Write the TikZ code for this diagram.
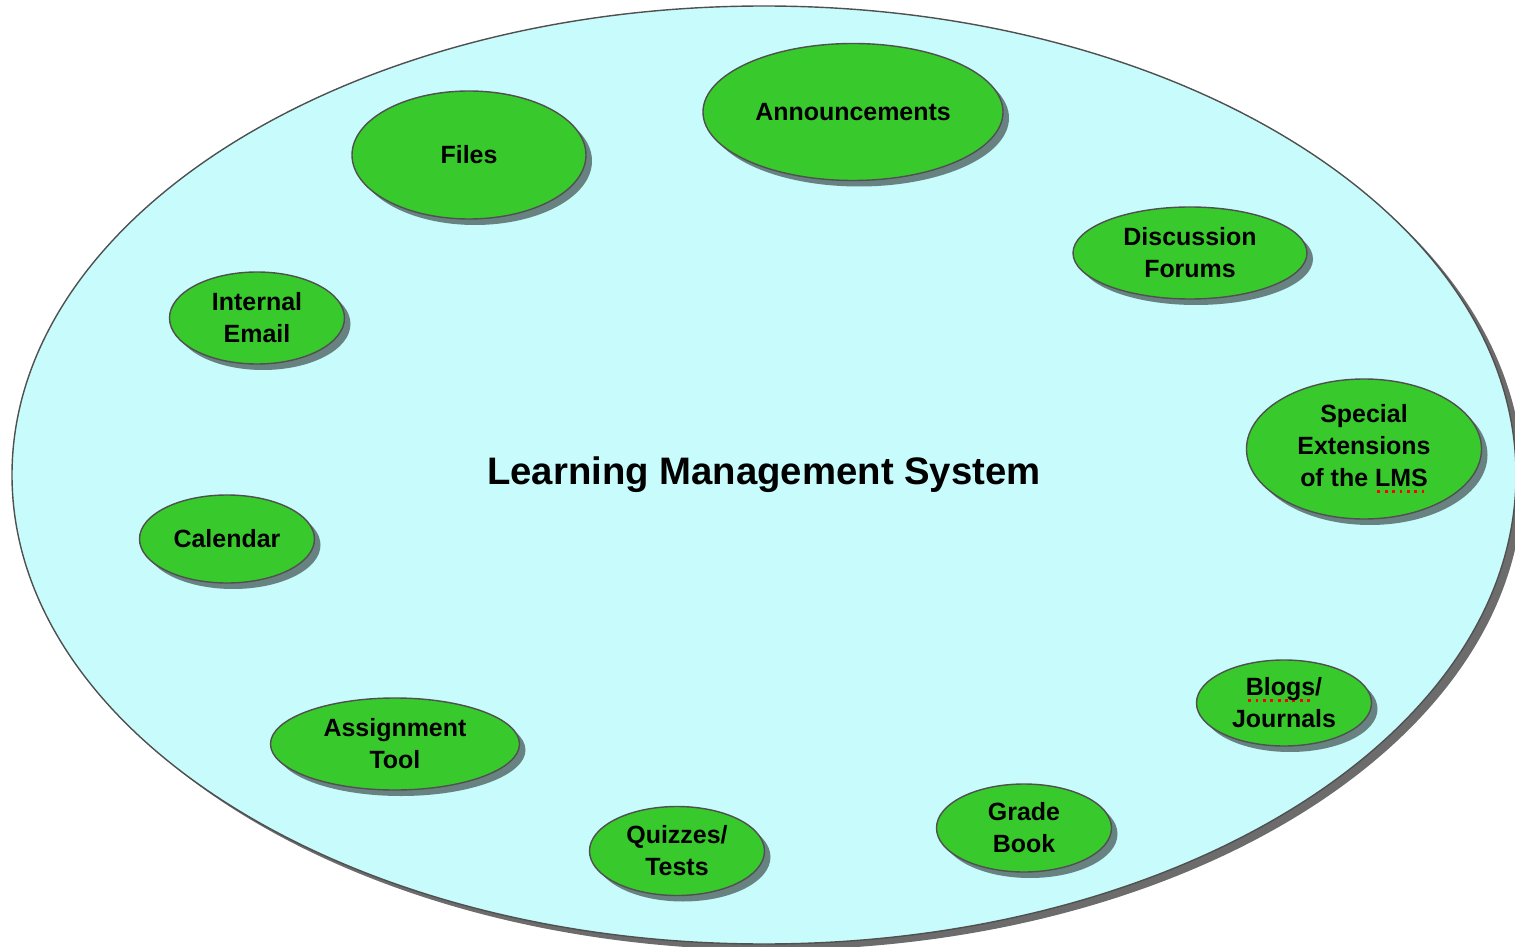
\documentclass[tikz,border=0pt]{standalone}
\usepackage{fontspec}
\setmainfont{Liberation Sans}
\usetikzlibrary{shapes.geometric,shadows}
\definecolor{lmscyan}{RGB}{200,252,252}
\definecolor{lmsgreen}{RGB}{56,201,44}
\definecolor{lmsshade}{RGB}{104,130,130}
\definecolor{lmsedge}{RGB}{80,80,80}
\newcommand{\spellmark}[1]{\sbox0{#1}\rlap{\raisebox{-1.8pt}{\color{red}\leaders\hbox to 2.1pt{\hss\rule{0.8pt}{0.8pt}\hss}\hskip\wd0}}#1}
\begin{document}
\begin{tikzpicture}[
        oval/.style 2 args={minimum width=#1cm, minimum height=#2cm},
        tool/.style={ellipse, draw=lmsedge, line width=0.4pt, fill=lmsgreen, inner sep=0pt, align=center,
            font=\fontsize{7.1}{9.1}\selectfont\bfseries,
            drop shadow={shadow xshift=0.06cm, shadow yshift=-0.06cm, fill=lmsshade, opacity=1}}
    ]
        \useasboundingbox (0,0) rectangle (15.15,-9.47);
        \node[ellipse, draw=lmsedge, line width=0.4pt, fill=lmscyan, inner sep=0pt, oval={15.04}{9.38},
            font=\fontsize{10.9}{13}\selectfont\bfseries,
            drop shadow={shadow xshift=0.07cm, shadow yshift=-0.06cm, fill=gray!85!black, opacity=1}]
            (lms) at (7.64, -4.75) {Learning Management System};
        \node[tool, oval={3.00}{1.37}] (announce) at (8.53, -1.12) {Announcements};
        \node[tool, oval={2.34}{1.28}] (files) at (4.69, -1.55) {Files};
        \node[tool, oval={2.34}{0.92}] (forums) at (11.90, -2.53) {Discussion\\Forums};
        \node[tool, oval={1.75}{0.92}] (email) at (2.57, -3.18) {Internal\\Email};
        \node[tool, oval={2.35}{1.40}] (special) at (13.64, -4.49) {Special\\Extensions\\of the \spellmark{LMS}};
        \node[tool, oval={1.75}{0.88}] (calendar) at (2.27, -5.39) {Calendar};
        \node[tool, oval={1.75}{0.86}] (blogs) at (12.84, -7.03) {\spellmark{Blogs}/\\Journals};
        \node[tool, oval={2.49}{0.92}] (assign) at (3.95, -7.44) {Assignment\\Tool};
        \node[tool, oval={1.75}{0.89}] (quizzes) at (6.77, -8.51) {Quizzes/\\Tests};
        \node[tool, oval={1.75}{0.88}] (grade) at (10.24, -8.28) {Grade\\Book};
\end{tikzpicture}
\end{document}
